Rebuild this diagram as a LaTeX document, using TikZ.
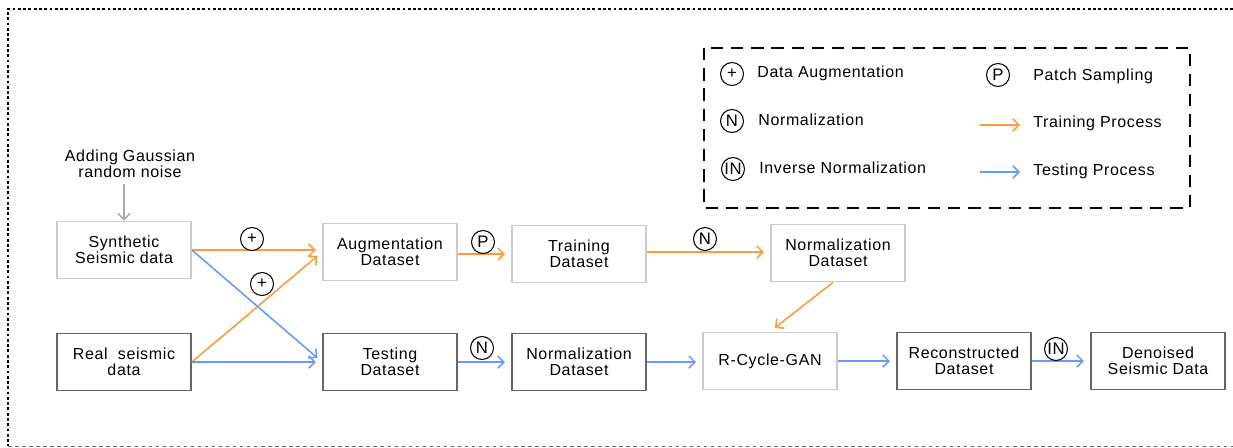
\documentclass[tikz,border=0pt]{standalone}
\usepackage{fontspec}
\setmainfont{Liberation Sans}[LetterSpace=4]
\usetikzlibrary{arrows.meta,positioning}

\definecolor{trainc}{RGB}{255,155,60}
\definecolor{testc}{RGB}{105,155,255}
\definecolor{lightc}{RGB}{204,204,204}
\definecolor{darkc}{RGB}{102,102,102}
\definecolor{noisec}{RGB}{170,170,170}

\begin{document}
\begin{tikzpicture}[x=0.02cm,y=-0.02cm,
  font=\fontsize{9.1}{9.3}\selectfont,
  box/.style={rectangle,minimum width=2.68cm,minimum height=1.14cm,align=center,line width=1pt},
  lbox/.style={box,draw=lightc},
  dbox/.style={box,draw=darkc},
  op/.style={circle,draw,line width=0.6pt,inner sep=0pt,minimum size=0.46cm,font=\fontsize{9.5}{9.5}\selectfont},
  train/.style={draw=trainc,line width=0.9pt,-{Straight Barb[length=3.5pt,width=7pt]},shorten >=3.5pt},
  test/.style={train,draw=testc},
  legtext/.style={anchor=west,inner sep=0pt},
]
\useasboundingbox (0,0) rectangle (1233,447);

% outer frame
\draw[line width=1.6pt,dash pattern=on 1.6pt off 1.4pt] (1233,9) -- (8,9) -- (8,446);
\draw[darkc,line width=0.5pt,dash pattern=on 2pt off 2pt] (8,446) -- (1233,446);

% legend
\draw[line width=1pt,dash pattern=on 7pt off 4.5pt] (704,48) rectangle (1190,208);
\node[op] (lg1) at (732,74) {+};
\node[legtext] at (757,73) {Data Augmentation};
\node[op] (lg2) at (732,121) {N};
\node[legtext] at (758,120) {Normalization};
\node[op] (lg3) at (733,169) {IN};
\node[legtext] at (759,168) {Inverse Normalization};
\node[op] (lg4) at (998,75) {P};
\node[legtext] at (1033,76) {Patch Sampling};
\coordinate (tra) at (980,125);
\coordinate (trb) at (1020,125);
\draw[train,shorten >=0pt] (tra) -- (trb);
\node[legtext] at (1033,123) {Training Process};
\coordinate (tea) at (980,172);
\coordinate (teb) at (1020,172);
\draw[test,shorten >=0pt] (tea) -- (teb);
\node[legtext] at (1033,171) {Testing Process};

% data boxes
\node[lbox] (syn) at (124,250) {Synthetic\\Seismic data};
\node[dbox] (real) at (124,362) {Real\ \ seismic\\data};
\node[lbox] (aug) at (390,252) {Augmentation\\Dataset};
\node[dbox] (test) at (390,362) {Testing\\Dataset};
\node[lbox] (train) at (579,254) {Training\\Dataset};
\node[lbox] (ntrain) at (838,253) {Normalization\\Dataset};
\node[dbox] (ntest) at (579,362) {Normalization\\Dataset};
\node[lbox] (gan) at (770,361) {R-Cycle-GAN};
\node[dbox] (rec) at (964,361) {Reconstructed\\Dataset};
\node[dbox] (den) at (1158,361) {Denoised\\Seismic Data};

% noise input
\node[align=center] (noise) at (130,164) {Adding Gaussian\\random noise};
\draw[noisec,line width=0.9pt,-{Straight Barb[length=3.5pt,width=7pt]}] (noise.south -| syn.north) -- (syn.north);

% training path
\draw[train] (syn.east) -- (syn.east -| aug.west);
\draw[train] (real.east) -- (aug.west);
\draw[train] ([yshift=-0.04cm]aug.east) -- ([yshift=-0.04cm]aug.east -| train.west);
\draw[train] ([yshift=0.04cm]train.east) -- ([yshift=0.04cm]train.east -| ntrain.west);
\draw[train] ([xshift=-0.1cm]ntrain.south) -- (gan.north);

% testing path
\draw[test] (syn.east) -- (test.west);
\draw[test] (real.east) -- (test.west);
\draw[test] (test.east) -- (ntest.west);
\draw[test] (ntest.east) -- (ntest.east -| gan.west);
\draw[test] (gan.east) -- (rec.west);
\draw[test] (rec.east) -- (den.west);

% operations on the arrows
\node[op,fill=white] (op1) at (252,239) {+};
\node[op,fill=white] (op2) at (262,284) {+};
\node[op,fill=white] (op3) at (483,242) {P};
\node[op,fill=white] (op4) at (705,239) {N};
\node[op,fill=white] (op5) at (482,348) {N};
\node[op,fill=white] (op6) at (1056,349) {IN};
\end{tikzpicture}
\end{document}
